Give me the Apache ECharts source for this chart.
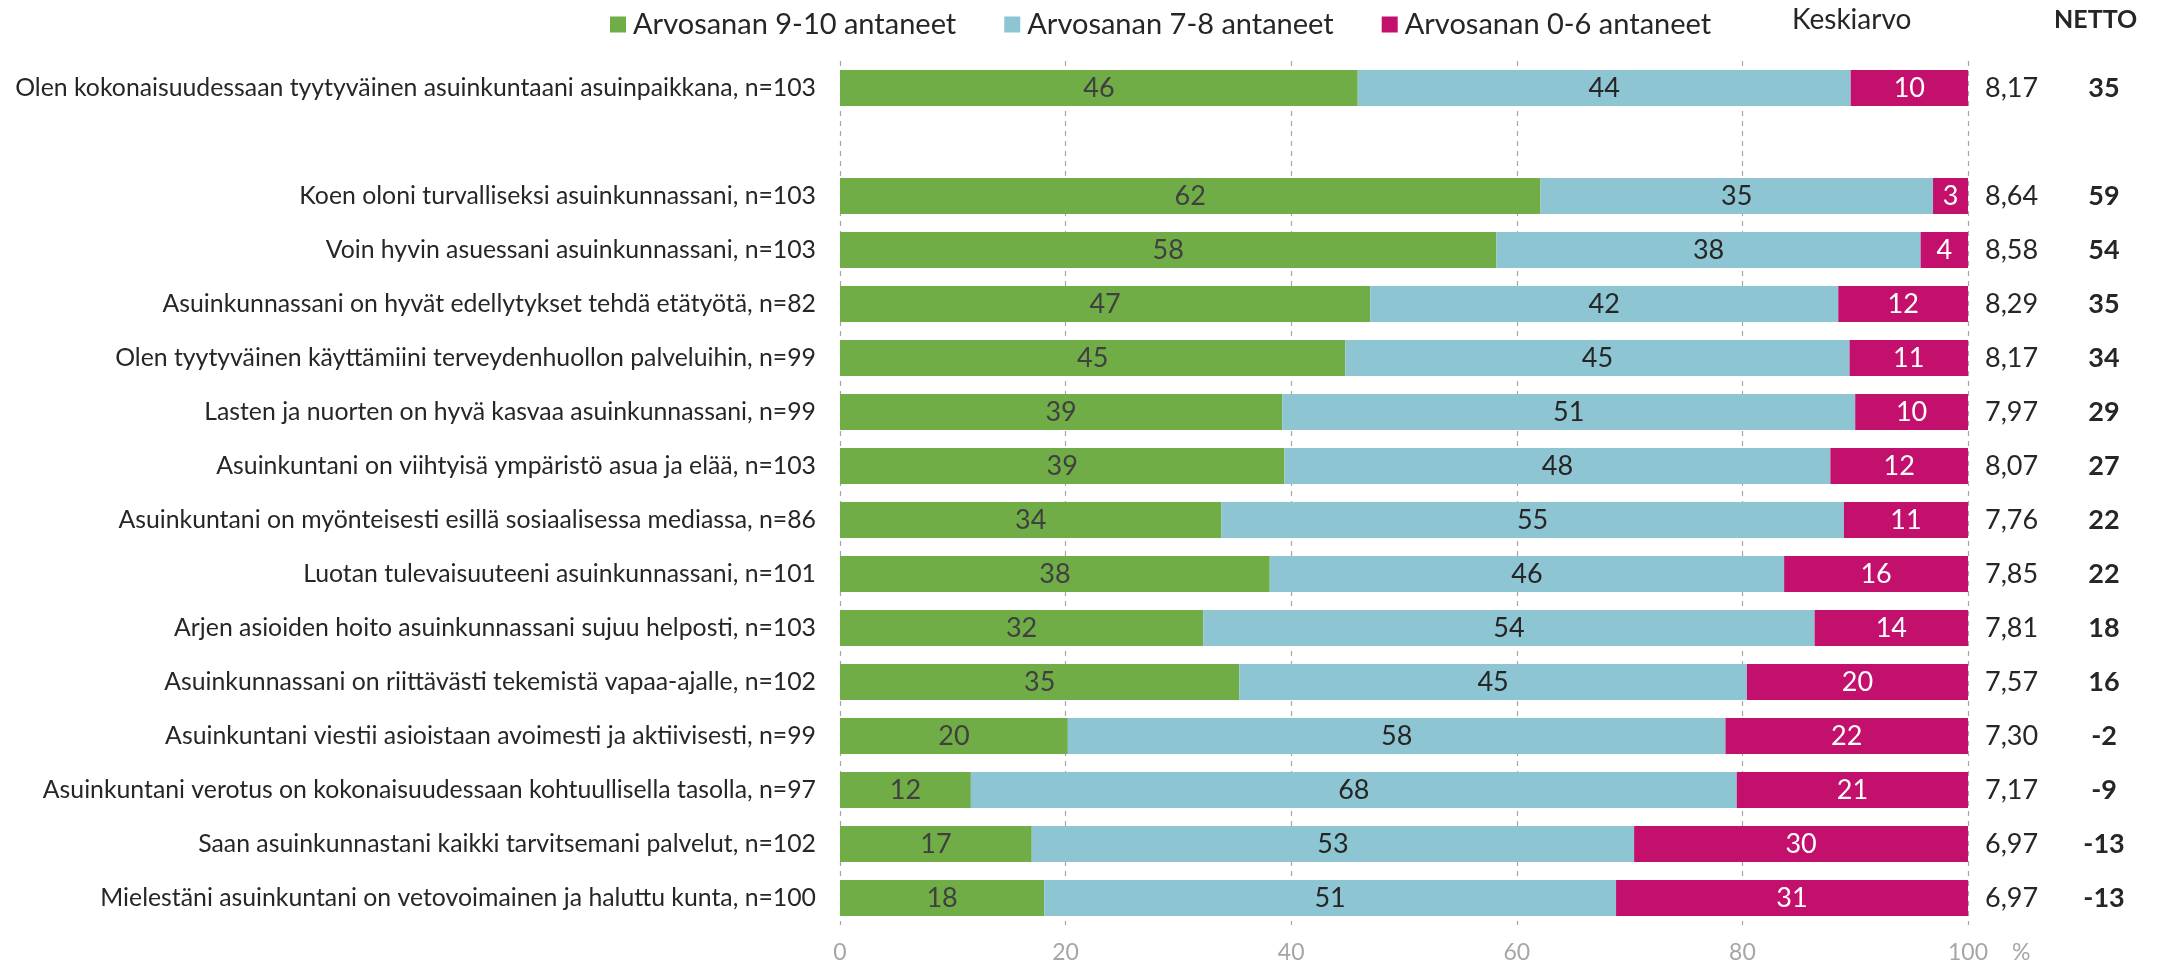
<!DOCTYPE html>
<html>
<head>
<meta charset="utf-8">
<title>Asuinkunta</title>
<script src="https://cdn.jsdelivr.net/npm/echarts@6/dist/echarts.min.js"></script>
<style>
  html, body { margin: 0; padding: 0; background: #fff; }
  #chart { width: 2180px; height: 964px; }
</style>
</head>
<body>
<div id="chart"></div>
<script>
// kysymykset, ylhäältä alas ('' = tyhjä väli)
const categories = [
  'Olen kokonaisuudessaan tyytyväinen asuinkuntaani asuinpaikkana, n=103',
  '',
  'Koen oloni turvalliseksi asuinkunnassani, n=103',
  'Voin hyvin asuessani asuinkunnassani, n=103',
  'Asuinkunnassani on hyvät edellytykset tehdä etätyötä, n=82',
  'Olen tyytyväinen käyttämiini terveydenhuollon palveluihin, n=99',
  'Lasten ja nuorten on hyvä kasvaa asuinkunnassani, n=99',
  'Asuinkuntani on viihtyisä ympäristö asua ja elää, n=103',
  'Asuinkuntani on myönteisesti esillä sosiaalisessa mediassa, n=86',
  'Luotan tulevaisuuteeni asuinkunnassani, n=101',
  'Arjen asioiden hoito asuinkunnassani sujuu helposti, n=103',
  'Asuinkunnassani on riittävästi tekemistä vapaa-ajalle, n=102',
  'Asuinkuntani viestii asioistaan avoimesti ja aktiivisesti, n=99',
  'Asuinkuntani verotus on kokonaisuudessaan kohtuullisella tasolla, n=97',
  'Saan asuinkunnastani kaikki tarvitsemani palvelut, n=102',
  'Mielestäni asuinkuntani on vetovoimainen ja haluttu kunta, n=100'
];

// osuudet % (palkit), tekstit pyöristetään
const high = [45.9, null, 62.1, 58.2, 47.0, 44.8, 39.2, 39.4, 33.8, 38.1, 32.2, 35.4, 20.2, 11.6, 17.0, 18.1];
const mid  = [43.7, null, 34.8, 37.6, 41.5, 44.7, 50.8, 48.4, 55.2, 45.6, 54.2, 45.0, 58.3, 67.9, 53.4, 50.7];
const low  = [10.4, null,  3.1,  4.2, 11.5, 10.5, 10.0, 12.2, 11.0, 16.3, 13.6, 19.6, 21.5, 20.5, 29.6, 31.2];

const keskiarvo = ['8,17', '', '8,64', '8,58', '8,29', '8,17', '7,97', '8,07', '7,76', '7,85', '7,81', '7,57', '7,30', '7,17', '6,97', '6,97'];
const netto = ['35', '', '59', '54', '35', '34', '29', '27', '22', '22', '18', '16', '-2', '-9', '-13', '-13'];

const xTicks = [0, 20, 40, 60, 80, 100];

const seriesNames = ['Arvosanan 9-10 antaneet', 'Arvosanan 7-8 antaneet', 'Arvosanan 0-6 antaneet'];
const colors = ['#70ad47', '#8dc5d3', '#c2106c'];
const labelColors = ['#404040', '#262626', '#ffffff'];

const FONT = 'Lato, "Open Sans", sans-serif';

const chart = echarts.init(document.getElementById('chart'), null, { renderer: 'canvas' });

const series = [high, mid, low].map((values, i) => ({
  name: seriesNames[i],
  type: 'bar',
  stack: 'total',
  barWidth: 36,
  data: values,
  itemStyle: { color: colors[i] },
  label: {
    show: true,
    position: 'inside',
    color: labelColors[i],
    fontFamily: FONT,
    fontSize: 27,
    formatter: (p) => (p.value == null ? '' : String(Math.round(p.value)))
  }
}));

const option = {
  backgroundColor: '#fff',
  animation: false,
  textStyle: { fontFamily: FONT },
  legend: {
    top: 5,
    left: 605,
    icon: 'rect',
    itemWidth: 16,
    itemHeight: 16,
    itemGap: 48,
    textStyle: { fontSize: 29, color: '#262626', fontFamily: FONT, padding: [0, 0, 0, 2] },
    data: seriesNames
  },
  graphic: [
    {
      type: 'text', left: 1792, top: 6,
      style: { text: 'Keskiarvo', fontSize: 28, fill: '#262626', fontFamily: FONT }
    },
    {
      type: 'text', left: 2054, top: 7,
      style: { text: 'NETTO', fontSize: 25, fontWeight: 'bold', fill: '#262626', fontFamily: FONT }
    }
  ],
  grid: {
    left: 840,
    right: 212,
    top: 61,
    height: 864
  },
  xAxis: {
    type: 'value',
    min: xTicks[0],
    max: xTicks[xTicks.length - 1],
    interval: 20,
    name: '%',
    nameLocation: 'end',
    nameGap: 44,
    nameTextStyle: { color: '#a6a6a6', fontSize: 23, verticalAlign: 'top', padding: [16, 0, 0, 0] },
    axisLine: { show: false },
    axisTick: { show: false },
    axisLabel: { color: '#a6a6a6', fontSize: 23, margin: 16 },
    splitLine: {
      show: true,
      lineStyle: { color: '#a6a6a6', type: [5, 5], width: 1.2 }
    }
  },
  yAxis: [
    {
      type: 'category',
      inverse: true,
      data: categories,
      axisLine: { show: false },
      axisTick: { show: false },
      axisLabel: { color: '#262626', fontSize: 24.8, margin: 24 }
    },
    {
      // keskiarvo + netto oikealla
      type: 'category',
      inverse: true,
      position: 'right',
      data: keskiarvo,
      axisLine: { show: false },
      axisTick: { show: false },
      axisLabel: {
        margin: 17,
        formatter: (val, idx) => val ? `{a|${val}}{b|${netto[idx]}}` : '',
        rich: {
          a: { width: 88, fontSize: 27, color: '#262626', fontFamily: FONT },
          b: { width: 62, align: 'center', fontSize: 27, fontWeight: 'bold', color: '#262626', fontFamily: FONT }
        }
      }
    }
  ],
  series
};

chart.setOption(option);
</script>
</body>
</html>
